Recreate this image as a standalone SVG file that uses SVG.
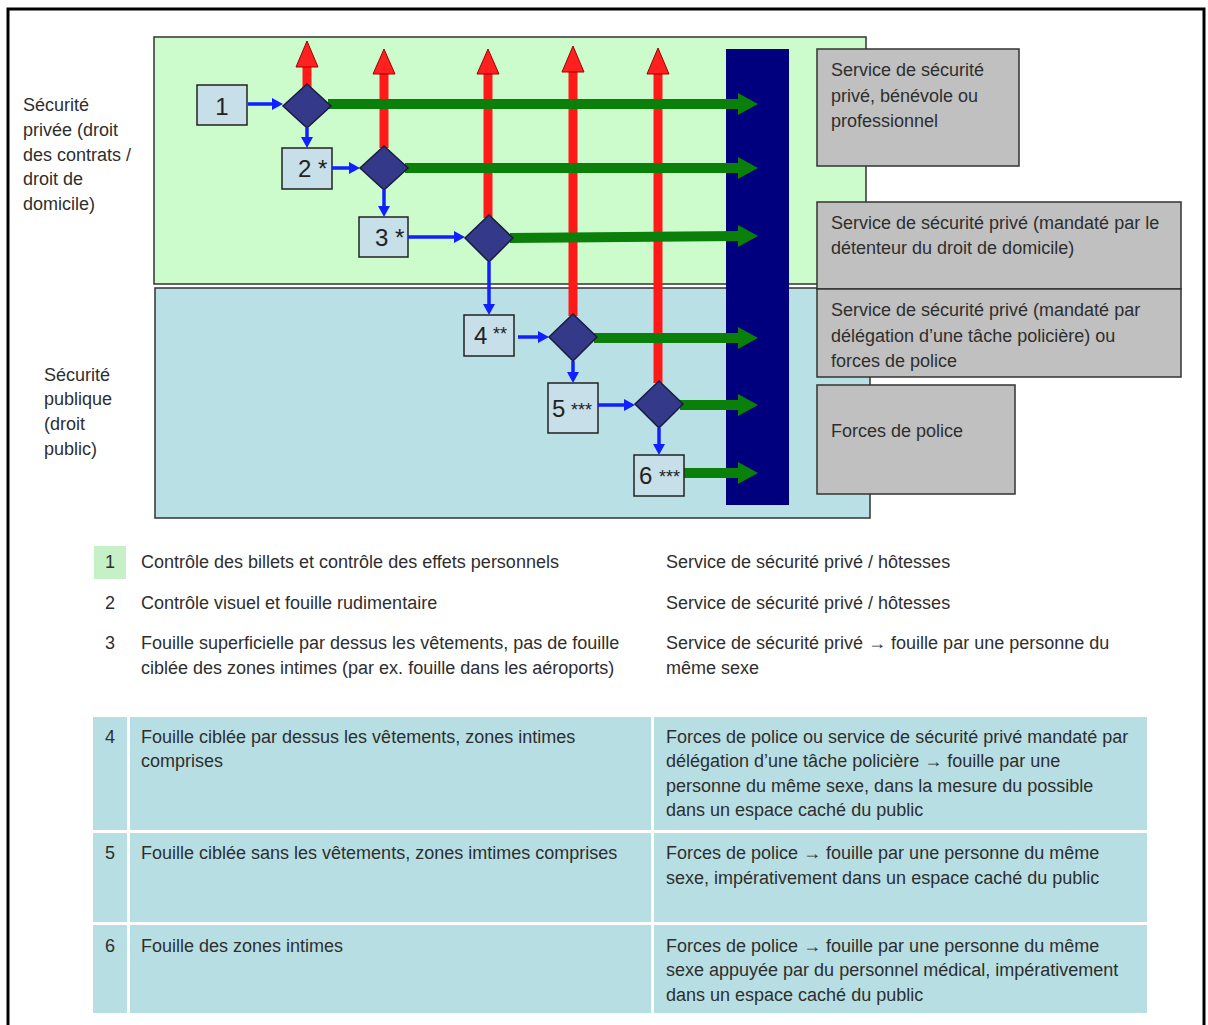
<svg xmlns="http://www.w3.org/2000/svg" width="1208" height="1025" viewBox="0 0 1208 1025">
<style>
text{font-family:"Liberation Sans",Arial,sans-serif;fill:#2e2e2e;font-size:18px}
.num{fill:#222;font-size:24px}
.ast{fill:#222;font-size:18px}
.gray{fill:#c0c0c0;stroke:#333;stroke-width:1.5}
.nbox{fill:#c6dfe8;stroke:#222;stroke-width:1.5}
.dia{fill:#35398a;stroke:#1a1a40;stroke-width:1.5}
.red{stroke:#ff1a1a;stroke-width:9;fill:none}
.redh{fill:#ff2020;stroke:#a00000;stroke-width:1}
.grn{stroke:#0a7f0a;stroke-width:10;fill:none}
.grnh{fill:#0a7f0a}
.blu{stroke:#1020ff;stroke-width:3.5;fill:none}
.bluh{fill:#1020ff}
.cell{fill:#b7dfe3}
</style>
<rect width="1208" height="1025" fill="#fff"/>
<path d="M8 1025 V9 H1204 V1025" fill="none" stroke="#000" stroke-width="3"/>

<g id="regions">
<rect x="154" y="37" width="712" height="247" fill="#ccfccc" stroke="#333" stroke-width="1.5"/>
<rect x="155" y="288" width="715" height="230" fill="#b9e0e4" stroke="#333" stroke-width="1.5"/>
<rect x="726" y="49" width="63" height="456" fill="#00007f"/>
</g>

<g id="labels">
<text x="23" y="111">Sécurité</text>
<text x="23" y="136">privée (droit</text>
<text x="23" y="161">des contrats /</text>
<text x="23" y="185">droit de</text>
<text x="23" y="210">domicile)</text>
<text x="44" y="381">Sécurité</text>
<text x="44" y="405">publique</text>
<text x="44" y="430">(droit</text>
<text x="44" y="455">public)</text>
</g>

<g id="connectors">
<g id="red-arrows">
<line class="red" x1="307" y1="88" x2="307" y2="66"/>
<polygon class="redh" points="307,41 296,67 318,67"/>
<line class="red" x1="384" y1="148" x2="384" y2="73"/>
<polygon class="redh" points="384,49 373,74 395,74"/>
<line class="red" x1="488" y1="218" x2="488" y2="73"/>
<polygon class="redh" points="488,49 477,74 499,74"/>
<line class="red" x1="573" y1="316" x2="573" y2="71"/>
<polygon class="redh" points="573,46 562,72 584,72"/>
<line class="red" x1="658" y1="383" x2="658" y2="73"/>
<polygon class="redh" points="658,48 647,74 669,74"/>
</g>
<g id="green-arrows">
<line class="grn" x1="328" y1="104" x2="740" y2="104"/>
<polygon class="grnh" points="738,93 758,104 738,115"/>
<line class="grn" x1="405" y1="168" x2="740" y2="168"/>
<polygon class="grnh" points="738,157 758,168 738,179"/>
<line class="grn" x1="510" y1="238" x2="740" y2="236"/>
<polygon class="grnh" points="738,225 758,236 738,247"/>
<line class="grn" x1="594" y1="338" x2="740" y2="338"/>
<polygon class="grnh" points="738,327 758,338 738,349"/>
<line class="grn" x1="680" y1="405" x2="740" y2="405"/>
<polygon class="grnh" points="738,394 758,405 738,416"/>
<line class="grn" x1="684" y1="473" x2="740" y2="473"/>
<polygon class="grnh" points="738,462 758,473 738,484"/>
</g>
</g>

<g id="n1"><rect class="nbox" x="197" y="85" width="50" height="40"/><text class="num" x="222" y="115" text-anchor="middle">1</text></g>
<g id="n2"><rect class="nbox" x="282" y="148" width="50" height="41"/><text class="num" x="298" y="177">2 *</text></g>
<g id="n3"><rect class="nbox" x="359" y="217" width="49" height="40"/><text class="num" x="375" y="246">3 *</text></g>
<g id="n4"><rect class="nbox" x="464" y="315" width="50" height="41"/><text class="num" x="474" y="344">4</text><text class="ast" x="493" y="340">**</text></g>
<g id="n5"><rect class="nbox" x="548" y="383" width="50" height="50"/><text class="num" x="552" y="417">5</text><text class="ast" x="571" y="416">***</text></g>
<g id="n6"><rect class="nbox" x="634" y="455" width="50" height="41"/><text class="num" x="639" y="484">6</text><text class="ast" x="659" y="483">***</text></g>

<g id="d1"><polygon class="dia" points="307,84 331,106 307,128 283,106"/></g>
<g id="d2"><polygon class="dia" points="384,146 408,168 384,190 360,168"/></g>
<g id="d3"><polygon class="dia" points="489,215 513,238 489,262 465,238"/></g>
<g id="d4"><polygon class="dia" points="573,314 597,337 573,361 549,337"/></g>
<g id="d5"><polygon class="dia" points="659,381 683,404 659,428 635,404"/></g>

<g id="blue-connectors">
<line class="blu" x1="248" y1="104" x2="274" y2="104"/><polygon class="bluh" points="272,98 283,104 272,110"/>
<line class="blu" x1="307" y1="128" x2="307" y2="139"/><polygon class="bluh" points="301,137 307,148 313,137"/>
<line class="blu" x1="332" y1="168" x2="351" y2="168"/><polygon class="bluh" points="349,162 360,168 349,174"/>
<line class="blu" x1="384" y1="190" x2="384" y2="208"/><polygon class="bluh" points="378,206 384,217 390,206"/>
<line class="blu" x1="408" y1="237" x2="456" y2="237"/><polygon class="bluh" points="454,231 465,237 454,243"/>
<line class="blu" x1="489" y1="262" x2="489" y2="306"/><polygon class="bluh" points="483,304 489,315 495,304"/>
<line class="blu" x1="518" y1="337" x2="540" y2="337"/><polygon class="bluh" points="538,331 549,337 538,343"/>
<line class="blu" x1="573" y1="361" x2="573" y2="374"/><polygon class="bluh" points="567,372 573,383 579,372"/>
<line class="blu" x1="598" y1="405" x2="626" y2="405"/><polygon class="bluh" points="624,399 635,405 624,411"/>
<line class="blu" x1="659" y1="428" x2="659" y2="446"/><polygon class="bluh" points="653,444 659,455 665,444"/>
</g>

<g id="g1"><rect class="gray" x="817" y="49" width="202" height="117"/>
<text x="831" y="76">Service de sécurité</text><text x="831" y="102">privé, bénévole ou</text><text x="831" y="127">professionnel</text></g>
<g id="g2"><rect class="gray" x="817" y="202" width="364" height="87"/>
<text x="831" y="229">Service de sécurité privé (mandaté par le</text><text x="831" y="254">détenteur du droit de domicile)</text></g>
<g id="g3"><rect class="gray" x="817" y="289" width="364" height="88"/>
<text x="831" y="316">Service de sécurité privé (mandaté par</text><text x="831" y="342">délégation d’une tâche policière) ou</text><text x="831" y="367">forces de police</text></g>
<g id="g4"><rect class="gray" x="817" y="385" width="198" height="109"/>
<text x="831" y="437">Forces de police</text></g>

<g id="legend">
<rect x="94" y="546" width="32" height="33" fill="#c6f0c6"/>
<text x="110" y="568" text-anchor="middle">1</text>
<text x="141" y="568">Contrôle des billets et contrôle des effets personnels</text>
<text x="666" y="568">Service de sécurité privé / hôtesses</text>
<text x="110" y="609" text-anchor="middle">2</text>
<text x="141" y="609">Contrôle visuel et fouille rudimentaire</text>
<text x="666" y="609">Service de sécurité privé / hôtesses</text>
<text x="110" y="649" text-anchor="middle">3</text>
<text x="141" y="649">Fouille superficielle par  dessus les vêtements, pas de fouille</text>
<text x="141" y="674">ciblée des zones intimes (par ex. fouille dans les aéroports)</text>
<text x="666" y="649">Service de sécurité privé →  fouille par une personne du</text>
<text x="666" y="674">même sexe</text>
</g>

<g id="table">
<rect class="cell" x="93" y="717" width="34" height="113"/>
<rect class="cell" x="130" y="717" width="521" height="113"/>
<rect class="cell" x="654" y="717" width="493" height="113"/>
<rect class="cell" x="93" y="833" width="34" height="89"/>
<rect class="cell" x="130" y="833" width="521" height="89"/>
<rect class="cell" x="654" y="833" width="493" height="89"/>
<rect class="cell" x="93" y="925" width="34" height="88"/>
<rect class="cell" x="130" y="925" width="521" height="88"/>
<rect class="cell" x="654" y="925" width="493" height="88"/>
<text x="110" y="743" text-anchor="middle">4</text>
<text x="141" y="743">Fouille ciblée par dessus les vêtements, zones intimes</text>
<text x="141" y="767">comprises</text>
<text x="666" y="743">Forces de police ou service de sécurité privé mandaté par</text>
<text x="666" y="767">délégation d’une tâche policière → fouille par une</text>
<text x="666" y="792">personne du même sexe, dans la mesure du possible</text>
<text x="666" y="816">dans un espace caché du public</text>
<text x="110" y="859" text-anchor="middle">5</text>
<text x="141" y="859">Fouille ciblée sans les vêtements, zones imtimes comprises</text>
<text x="666" y="859">Forces de police → fouille par une personne du même</text>
<text x="666" y="884">sexe, impérativement dans un espace caché du public</text>
<text x="110" y="952" text-anchor="middle">6</text>
<text x="141" y="952">Fouille des zones intimes</text>
<text x="666" y="952">Forces de police → fouille par une personne du même</text>
<text x="666" y="976">sexe appuyée par du personnel médical, impérativement</text>
<text x="666" y="1001">dans un espace caché du public</text>
</g>
</svg>
